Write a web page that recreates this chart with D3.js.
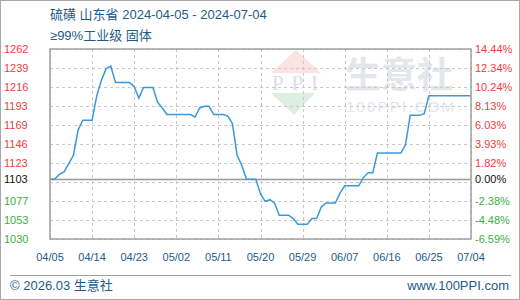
<!DOCTYPE html>
<html>
<head>
<meta charset="utf-8">
<script src="https://cdn.jsdelivr.net/npm/d3@7"></script>
<style>
body { margin: 0; background: #fff; }
svg { display: block; font-family: "Liberation Sans", Arial, "Noto Sans CJK SC", sans-serif; }
</style>
</head>
<body>
<svg width="520" height="300"></svg>
<script>
// sulfur price, Shandong, daily from 2024-04-05
let startDate = new Date(2024, 3, 5), endDate = new Date(2024, 6, 4);
let prices = [
	1103, 1103, 1109, 1112, 1122, 1132, 1163, 1175, 1175, 1175,
	1205, 1224, 1238, 1241, 1221, 1221, 1221, 1221, 1216, 1202,
	1215, 1215, 1215, 1197, 1190, 1182, 1182, 1182, 1182, 1182,
	1182, 1179, 1190, 1192, 1192, 1182, 1182, 1182, 1180, 1171,
	1132, 1120, 1103, 1103, 1103, 1085, 1076, 1078, 1074, 1059,
	1059, 1059, 1055, 1048, 1048, 1048, 1055, 1055, 1069, 1074,
	1074, 1074, 1086, 1095, 1095, 1095, 1095, 1105, 1111, 1111,
	1135, 1135, 1135, 1135, 1135, 1135, 1145, 1181, 1181, 1181,
	1183, 1205, 1205, 1205, 1205, 1205, 1205, 1205, 1205, 1205,
	1205
];
let basePrice = 1103;
let leftLabels = [1262, 1239, 1216, 1193, 1169, 1146, 1123, 1103, 1077, 1053, 1030];
let rightLabels = ['14.44%', '12.34%', '10.24%', '8.13%', '6.03%', '3.93%', '1.82%', '0.00%', '-2.38%', '-4.48%', '-6.59%'];
let xLabels = ['04/05', '04/14', '04/23', '05/02', '05/11', '05/20', '05/29', '06/07', '06/16', '06/25', '07/04'];

let plotL = 50, plotR = 471, plotT = 49, plotB = 239;
var svg = d3.select('svg');

var x = d3.scaleTime().domain([startDate, endDate]).range([plotL, plotR]);
var y = d3.scaleLinear().domain([1030, 1262]).range([plotB, plotT]);

// outer frame
svg.append('rect')
	.attr('x', 0.5).attr('y', 0.5)
	.attr('width', 519).attr('height', 299)
	.attr('fill', 'none').attr('stroke', '#a8a8a8');

// titles
svg.append('text').attr('x', 50).attr('y', 19)
	.attr('fill', '#1d5b8a').attr('font-size', 13)
	.text('硫磺 山东省 2024-04-05 - 2024-07-04');
svg.append('text').attr('x', 50).attr('y', 40)
	.attr('fill', '#1d5b8a').attr('font-size', 13)
	.text('≥99%工业级 固体');

// watermark
var wm = svg.append('g');
wm.append('path').attr('d', 'M296,50 L321,73 L271,73 Z').attr('fill', '#fbe3e3');
wm.append('text').attr('x', 295).attr('y', 90).attr('text-anchor', 'middle')
	.attr('font-family', '"Liberation Serif", serif').attr('font-size', 21)
	.attr('fill', '#d9dfeb').attr('textLength', 46).text('PPI');
wm.append('path').attr('d', 'M271,93 L315,93 L294,115 Z').attr('fill', '#dfefdf');
wm.append('text').attr('x', 345).attr('y', 88)
	.attr('font-family', '"Noto Sans CJK SC", sans-serif').attr('font-weight', 'bold')
	.attr('font-size', 36).attr('fill', '#e3e6ea').text('生意社');
wm.append('text').attr('x', 346).attr('y', 112)
	.attr('font-size', 15).attr('fill', '#e3e6ea').attr('textLength', 108).text('100PPI.COM');

// grid
var gridVals = d3.range(11).map(function(i) { return 1030 + i * 23.2; });
svg.append('g').selectAll('line')
	.data(gridVals)
	.join('line')
	.attr('x1', plotL).attr('x2', plotR)
	.attr('y1', function(d) { return Math.round(y(d)) + 0.5; })
	.attr('y2', function(d) { return Math.round(y(d)) + 0.5; })
	.attr('stroke', '#c8c8c8').attr('stroke-dasharray', '3,3');

var xTicks = d3.range(11).map(function(i) { return d3.timeDay.offset(startDate, i * 9); });
svg.append('g').selectAll('line')
	.data(xTicks)
	.join('line')
	.attr('x1', function(d) { return Math.round(x(d)) + 0.5; })
	.attr('x2', function(d) { return Math.round(x(d)) + 0.5; })
	.attr('y1', plotT).attr('y2', plotB)
	.attr('stroke', '#c8c8c8').attr('stroke-dasharray', '3,3');

// base line
svg.append('line')
	.attr('x1', plotL).attr('x2', plotR)
	.attr('y1', Math.round(y(basePrice)) + 0.5).attr('y2', Math.round(y(basePrice)) + 0.5)
	.attr('stroke', '#999').attr('stroke-width', 1.5);

// price line
var line = d3.line()
	.x(function(d, i) { return x(d3.timeDay.offset(startDate, i)); })
	.y(function(d) { return y(d); });
svg.append('path')
	.datum(prices)
	.attr('d', line)
	.attr('fill', 'none')
	.attr('stroke', '#3a9ad9')
	.attr('stroke-width', 1.5);

// plot frame
svg.append('rect')
	.attr('x', plotL).attr('y', plotT)
	.attr('width', plotR - plotL).attr('height', plotB - plotT)
	.attr('fill', 'none').attr('stroke', '#a0a0a0').attr('stroke-width', 1.5);

function labelColor(v) {
	if (v > basePrice) return '#f03c3c';
	if (v < basePrice) return '#3cb043';
	return '#111';
}

// left axis labels
svg.append('g').selectAll('text')
	.data(leftLabels)
	.join('text')
	.attr('x', 4)
	.attr('y', function(d) { return y(d) + 4; })
	.attr('font-size', 11)
	.attr('fill', labelColor)
	.text(function(d) { return d; });

// right axis labels
svg.append('g').selectAll('text')
	.data(rightLabels)
	.join('text')
	.attr('x', 475)
	.attr('y', function(d, i) { return y(leftLabels[i]) + 4; })
	.attr('font-size', 11)
	.attr('fill', function(d, i) { return labelColor(leftLabels[i]); })
	.text(function(d) { return d; });

// date labels
svg.append('g').selectAll('text')
	.data(xLabels)
	.join('text')
	.attr('x', function(d, i) { return x(xTicks[i]); })
	.attr('y', 261)
	.attr('text-anchor', 'middle')
	.attr('font-size', 11)
	.attr('fill', '#1d5b8a')
	.text(function(d) { return d; });

// footer
svg.append('line')
	.attr('x1', 10).attr('x2', 511).attr('y1', 275.5).attr('y2', 275.5)
	.attr('stroke', '#a0a0a0');
svg.append('text').attr('x', 10).attr('y', 290)
	.attr('font-size', 13).attr('fill', '#1d5b8a')
	.text('© 2026.03 生意社');
svg.append('text').attr('x', 509).attr('y', 290)
	.attr('text-anchor', 'end')
	.attr('font-size', 13).attr('fill', '#1d5b8a')
	.text('www.100PPI.com');
</script>
</body>
</html>
